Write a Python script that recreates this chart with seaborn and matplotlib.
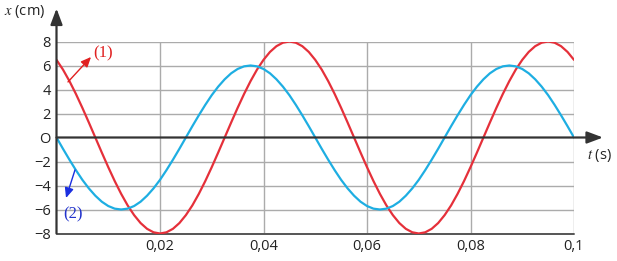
import matplotlib
matplotlib.use("Agg")
import matplotlib.pyplot as plt
import seaborn as sns
import pandas as pd

# time samples (s), step 0.00125
t_values = [i * 0.00125 for i in range(81)]

# curve (1) x in cm
x1_values = [6.47, 5.66, 4.70, 3.63, 2.47, 1.25, 0.00, -1.25, -2.47, -3.63,
             -4.70, -5.66, -6.47, -7.13, -7.61, -7.90, -8.00, -7.90, -7.61, -7.13,
             -6.47, -5.66, -4.70, -3.63, -2.47, -1.25, 0.00, 1.25, 2.47, 3.63,
             4.70, 5.66, 6.47, 7.13, 7.61, 7.90, 8.00, 7.90, 7.61, 7.13,
             6.47, 5.66, 4.70, 3.63, 2.47, 1.25, 0.00, -1.25, -2.47, -3.63,
             -4.70, -5.66, -6.47, -7.13, -7.61, -7.90, -8.00, -7.90, -7.61, -7.13,
             -6.47, -5.66, -4.70, -3.63, -2.47, -1.25, 0.00, 1.25, 2.47, 3.63,
             4.70, 5.66, 6.47, 7.13, 7.61, 7.90, 8.00, 7.90, 7.61, 7.13,
             6.47]

# curve (2) x in cm
x2_values = [0.00, -0.94, -1.85, -2.72, -3.53, -4.24, -4.85, -5.35, -5.71, -5.93,
             -6.00, -5.93, -5.71, -5.35, -4.85, -4.24, -3.53, -2.72, -1.85, -0.94,
             0.00, 0.94, 1.85, 2.72, 3.53, 4.24, 4.85, 5.35, 5.71, 5.93,
             6.00, 5.93, 5.71, 5.35, 4.85, 4.24, 3.53, 2.72, 1.85, 0.94,
             0.00, -0.94, -1.85, -2.72, -3.53, -4.24, -4.85, -5.35, -5.71, -5.93,
             -6.00, -5.93, -5.71, -5.35, -4.85, -4.24, -3.53, -2.72, -1.85, -0.94,
             0.00, 0.94, 1.85, 2.72, 3.53, 4.24, 4.85, 5.35, 5.71, 5.93,
             6.00, 5.93, 5.71, 5.35, 4.85, 4.24, 3.53, 2.72, 1.85, 0.94,
             0.00]

x_ticks = [0.02, 0.04, 0.06, 0.08, 0.1]
x_tick_labels = ["0,02", "0,04", "0,06", "0,08", "0,1"]
y_ticks = [-8, -6, -4, -2, 0, 2, 4, 6, 8]
y_tick_labels = ["\u22128", "\u22126", "\u22124", "\u22122", "O", "2", "4", "6", "8"]

sns.set_theme(style="white")
plt.rcParams['font.family'] = ['Open Sans', 'DejaVu Sans']
plt.rcParams['mathtext.fontset'] = 'stix'

df = pd.DataFrame({"t": t_values + t_values,
                   "x": x1_values + x2_values,
                   "curve": ["(1)"] * len(t_values) + ["(2)"] * len(t_values)})

fig = plt.figure(figsize=(6.17, 2.61), dpi=100)
ax = fig.add_axes([56.5 / 617, (261 - 233.5) / 261, 517.5 / 617, 192 / 261])

red = "#e5303a"
blue = "#1eaee2"
grid_c = "#ababab"
axis_c = "#333333"

# grid
for v in y_ticks:
    if v != 0 and v != -8:
        ax.axhline(v, color=grid_c, lw=1.0, zorder=1)
for v in x_ticks:
    ax.axvline(v, color=grid_c, lw=1.0, zorder=1)

sns.lineplot(data=df, x="t", y="x", hue="curve", palette=[red, blue],
             lw=1.6, legend=False, ax=ax, zorder=3, sort=False)

ax.set_xlim(0, 0.1)
ax.set_ylim(-8, 8)
for s in ax.spines.values():
    s.set_visible(False)
ax.axhline(-8, color="#555555", lw=1.4, zorder=2, clip_on=False)

# axes with arrows
ax.annotate("", xy=(0.1056, 0), xytext=(0, 0),
            arrowprops=dict(arrowstyle="-|>,head_length=0.8,head_width=0.3",
                            color=axis_c, lw=1.6, shrinkA=0, shrinkB=0),
            annotation_clip=False, zorder=4)
ax.annotate("", xy=(0, 10.75), xytext=(0, -8),
            arrowprops=dict(arrowstyle="-|>,head_length=0.8,head_width=0.3",
                            color=axis_c, lw=1.6, shrinkA=0, shrinkB=0),
            annotation_clip=False, zorder=4)

ax.set_xticks(x_ticks)
ax.set_xticklabels(x_tick_labels)
ax.set_yticks(y_ticks)
ax.set_yticklabels(y_tick_labels)
ax.tick_params(axis="both", length=0, labelsize=10.5, colors="#222222")
ax.tick_params(axis="x", pad=4)
ax.tick_params(axis="y", pad=4)
ax.set_xlabel("")
ax.set_ylabel("")

fig.text(4 / 617, 1 - 12 / 261, r"$x$ (cm)", fontsize=10.5, color="#222222",
         ha="left", va="center")
fig.text(587 / 617, 1 - 156 / 261, r"$t$ (s)", fontsize=10.5, color="#222222",
         ha="left", va="center")

# labels with arrows
ax.annotate("(1)", xy=(0.00667, 6.71), xytext=(0.009, 7.0),
            color="#e02020", fontsize=12, family="Liberation Serif",
            ha="center", va="center")
ax.annotate("", xy=(0.00667, 6.71), xytext=(0.00222, 4.63),
            arrowprops=dict(arrowstyle="-|>,head_length=0.5,head_width=0.22",
                            color="#e02020", lw=1.0, shrinkA=0, shrinkB=0),
            zorder=5)
ax.annotate("(2)", xy=(0.0031, -6.4), xytext=(0.0031, -6.4),
            color="#2233cc", fontsize=12, family="Liberation Serif",
            ha="center", va="center")
ax.annotate("", xy=(0.00184, -5.04), xytext=(0.00357, -2.71),
            arrowprops=dict(arrowstyle="-|>,head_length=0.5,head_width=0.22",
                            color="#1a2ee0", lw=1.0, shrinkA=0, shrinkB=0),
            zorder=5)

fig.savefig("out.png", dpi=100)
